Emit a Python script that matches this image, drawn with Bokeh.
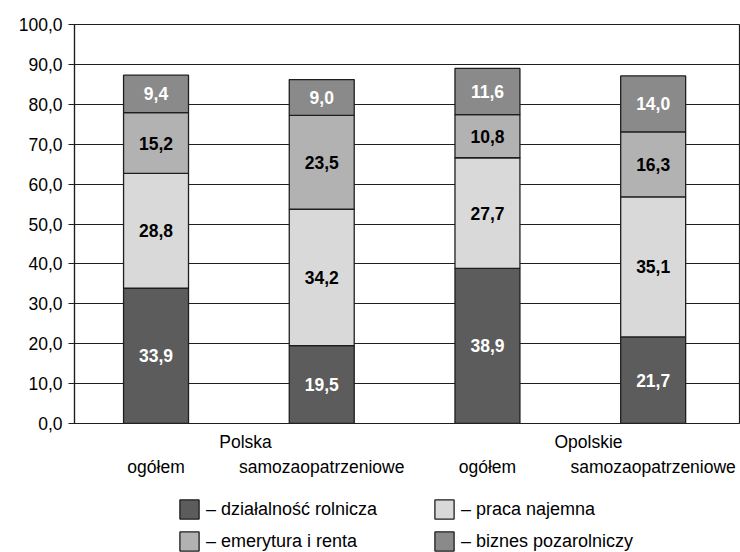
import numpy as np
from bokeh.plotting import figure
from bokeh.layouts import column
from bokeh.models import (ColumnDataSource, FixedTicker, LinearAxis, Legend, LegendItem,
                          Range1d, Span)
from bokeh.core.properties import value
from bokeh.embed import file_html
from bokeh.resources import INLINE

# ---- data ----
groups = ["Polska", "Opolskie"]
subcats = ["ogółem", "samozaopatrzeniowe", "ogółem", "samozaopatrzeniowe"]
series = ["– działalność rolnicza", "– praca najemna", "– emerytura i renta", "– biznes pozarolniczy"]
dzialalnosc = [33.9, 19.5, 38.9, 21.7]
praca = [28.8, 34.2, 27.7, 35.1]
emerytura = [15.2, 23.5, 10.8, 16.3]
biznes = [9.4, 9.0, 11.6, 14.0]
y_ticks = [0, 10, 20, 30, 40, 50, 60, 70, 80, 90, 100]

colors = ["#5c5c5c", "#d9d9d9", "#b2b2b2", "#8a8a8a"]
label_colors = ["white", "black", "black", "white"]
FONT = "Liberation Sans"
FS = "17.5px"
EDGE = "#1e1e1e"

xpos = [i + 0.5 for i in range(len(subcats))]
keys = ["d", "p", "e", "b"]
data = dict(x=xpos, d=dzialalnosc, p=praca, e=emerytura, b=biznes)
src = ColumnDataSource(data)

p = figure(width=740, height=485, output_backend="svg", toolbar_location=None,
           x_range=Range1d(0.008, 4.021), y_range=Range1d(0, 100),
           min_border_left=74, min_border_right=1, min_border_top=24, min_border_bottom=62,
           x_axis_location=None)
p.outline_line_color = EDGE
p.outline_line_width = 1.2

renderers = p.vbar_stack(keys, x="x", width=0.392, source=src, fill_color=colors,
                         line_color=EDGE, line_width=1.3)

# value labels
vals = [dzialalnosc, praca, emerytura, biznes]
bottom = np.zeros(len(subcats))
for v, col in zip(vals, label_colors):
    v = np.array(v)
    mid = bottom + v / 2
    ls = ColumnDataSource(dict(x=xpos, y=mid, t=[f"{a:.1f}".replace(".", ",") for a in v]))
    p.text(x="x", y="y", text="t", source=ls, text_align="center", text_baseline="middle",
           text_font=value(FONT), text_font_style="bold", text_font_size=FS,
           text_color=col, level="overlay")
    bottom = bottom + v

# y axis
p.yaxis.ticker = FixedTicker(ticks=y_ticks)
p.yaxis.major_label_overrides = {t: f"{t:.1f}".replace(".", ",") for t in y_ticks}
p.yaxis.major_label_text_font = FONT
p.yaxis.major_label_text_font_size = FS
p.yaxis.major_label_text_color = "black"
p.yaxis.axis_line_color = EDGE
p.yaxis.axis_line_width = 1.2
p.yaxis.major_tick_line_color = EDGE
p.yaxis.major_tick_line_width = 1.2
p.yaxis.major_tick_in = 0
p.yaxis.major_tick_out = 6
p.yaxis.minor_tick_line_color = None
p.yaxis.major_label_standoff = 6
p.ygrid.ticker = FixedTicker(ticks=y_ticks)
p.ygrid.grid_line_color = EDGE
p.ygrid.grid_line_width = 1.2
p.xgrid.grid_line_color = None

# x axes: group axis (closest), then sub-category axis
gticks = [1.04, 3.11]
gax = LinearAxis(ticker=FixedTicker(ticks=gticks),
                 major_label_overrides={t: g for t, g in zip(gticks, groups)})
sax = LinearAxis(ticker=FixedTicker(ticks=xpos),
                 major_label_overrides={x: s for x, s in zip(xpos, subcats)})
for ax, so in ((gax, 8), (sax, 2)):
    ax.axis_line_color = None
    ax.major_tick_line_color = None
    ax.minor_tick_line_color = None
    ax.major_tick_in = 0
    ax.major_tick_out = 0
    ax.minor_tick_in = 0
    ax.minor_tick_out = 0
    ax.major_label_text_font = FONT
    ax.major_label_text_font_size = FS
    ax.major_label_text_color = "black"
    ax.major_label_standoff = so
p.add_layout(gax, "below")
p.add_layout(sax, "below")
p.add_layout(Span(location=0, dimension="width", line_color=EDGE, line_width=1.2))

# legend figure (same data, renderers hidden; only the legend shows)
p2 = figure(width=740, height=67, output_backend="svg", toolbar_location=None,
            x_range=Range1d(100, 101), y_range=Range1d(0, 100),
            x_axis_location=None, y_axis_location=None,
            min_border=0, min_border_left=0, min_border_right=0,
            min_border_top=0, min_border_bottom=0)
p2.grid.visible = False
p2.outline_line_color = None
leg_r = p2.vbar_stack(keys, x="x", width=0.392, source=src, fill_color=colors,
                      line_color=EDGE, line_width=1.3)
for r in leg_r:
    r.visible = False
order = [0, 2, 1, 3]  # legend fills column by column
items = [LegendItem(label=series[i], renderers=[leg_r[i]]) for i in order]
legend = Legend(items=items, ncols=2, location=(103, -1),
                glyph_width=24, glyph_height=24, label_text_font=FONT,
                label_text_font_size="18px", label_text_color="black",
                border_line_color=None, inactive_fill_alpha=0,
                background_fill_alpha=0, spacing=8, padding=0, margin=0,
                label_standoff=5, label_width=218, label_height=24)
p2.add_layout(legend, "center")

layout = column(p, p2, spacing=0)
open("out.html", "w").write(file_html(layout, INLINE))
